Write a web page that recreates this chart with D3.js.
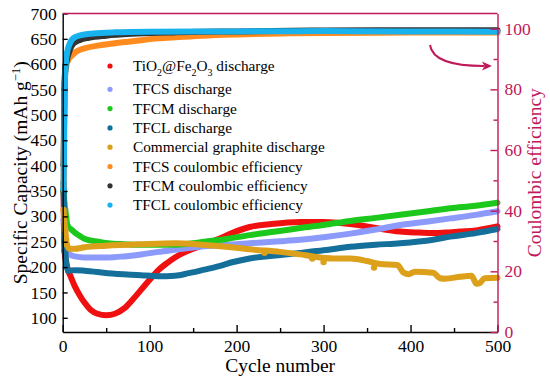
<!DOCTYPE html>
<html>
<head>
<meta charset="utf-8">
<script src="https://cdn.jsdelivr.net/npm/d3@7"></script>
<style>
  body { margin: 0; background: #fff; }
  svg { display: block; }
  text { font-family: "Liberation Serif", "Times New Roman", serif !important; }
</style>
</head>
<body>
<div id="chart"></div>
<script>
'use strict';

// values, [cycle, value]
const tfoDischarge = [[1,350],[2,232],[3,220],[4,208],[6,195],[10,178],[14,162],[20,143],[25,130],
  [32,116],[40,108],[50,105],[60,108],[71,119],[80,135],[90,155],[100,175],[110,194],[120,208],
  [130,220],[140,229],[150,236],[163,244],[180,256],[196,268],[215,279],[240,285],[273,289],
  [300,289],[319,287],[340,283],[360,277],[388,270],[410,268],[426,267],[440,268],[457,270],
  [475,272],[491,277],[500,280]];
const tfcsDischarge = [[1,293],[2,262],[3,245],[5,230],[8,225],[14,221],[25,219],[52,219],[70,221],
  [90,225],[110,230],[129,234],[158,240],[190,244],[215,247],[250,251],[273,254],[300,259],
  [331,266],[360,274],[388,283],[420,290],[446,296],[475,303],[500,310]];
const tfcmDischarge = [[1,352],[2,326],[3,313],[4,299],[5,285],[6,280],[10,274],[14,268],[20,261],
  [25,256],[41,250],[52,247],[70,245],[90,244],[129,244],[145,246],[163,250],[190,256],[215,263],
  [245,270],[273,277],[300,283],[331,291],[360,297],[388,303],[420,310],[446,316],[475,321],[500,327]];
const tfclDischarge = [[1,366],[2,268],[3,230],[4,210],[5,200],[6,193],[14,194],[25,193],[52,188],
  [90,184],[110,182],[129,183],[145,188],[163,195],[180,202],[196,210],[215,217],[245,223],
  [273,228],[300,233],[331,240],[360,244],[388,247],[426,254],[446,260],[475,267],[500,275]];
const graphiteDischarge = [[1,313],[2,290],[3,273],[4,255],[5,243],[8,236],[14,236],[25,239],
  [50,242],[90,245],[130,247],[160,244],[200,238],[215,235],[250,230],[273,225],[288,221],
  [311,217],[331,217],[350,212],[365,206],[385,204],[392,189],[398,186],[405,191],[426,189],
  [434,178],[440,177],[457,181],[470,183],[476,167],[480,169],[485,178],[500,179]];
const graphiteDips = [[232,228],[287,217],[300,210],[358,199]];

const tfcsCE = [[1,48],[2,82],[4,87.5],[6,89.5],[10,91],[15,92.3],[25,93.5],[40,94.4],[55,95],
  [75,95.7],[90,96.2],[110,96.8],[130,97.2],[160,97.7],[200,98.1],[250,98.4],[300,98.6],
  [400,98.7],[500,98.7]];
const tfcmCE = [[1,55],[2,80],[3,87],[5,90],[8,92.8],[12,95],[20,96.3],[30,97],[50,97.7],
  [80,98.3],[120,98.7],[200,99.1],[300,99.4],[400,99.5],[500,99.5]];
const tfclCE = [[1,47],[2,75],[3,86],[5,92],[8,95],[12,96.8],[20,97.8],[35,98.4],[60,98.8],
  [100,99.0],[200,99.1],[300,99.2],[400,99.1],[500,99.0]];

const seriesNames = ['TiO_{2}@Fe_{2}O_{3} discharge', 'TFCS discharge', 'TFCM discharge',
  'TFCL discharge', 'Commercial graphite discharge', 'TFCS coulombic efficiency',
  'TFCM coulombic efficiency', 'TFCL coulombic efficiency'];
const seriesColors = ['#f01010', '#8c9bfb', '#1dc81d', '#14709a', '#dca01a', '#ff8a1e', '#333333', '#18b2ee'];
const seriesData = [tfoDischarge, tfcsDischarge, tfcmDischarge, tfclDischarge, graphiteDischarge,
  tfcsCE, tfcmCE, tfclCE];
const seriesAxis = ['left', 'left', 'left', 'left', 'left', 'right', 'right', 'right'];

const cycleTicks = [0, 100, 200, 300, 400, 500];
const cycleMinor = [50, 150, 250, 350, 450];
const capTicks = [100, 150, 200, 250, 300, 350, 400, 450, 500, 550, 600, 650, 700];
const ceTicks = [0, 20, 40, 60, 80, 100];
const ceMinor = [10, 30, 50, 70, 90];

const W = 550, H = 383;
const margin = {top: 13.5, right: 52.5, bottom: 51, left: 62.7};
const crimson = '#c0185a';
const serif = '"Liberation Serif", "Times New Roman", serif';

const svg = d3.select('#chart').append('svg')
  .attr('width', W).attr('height', H)
  .style('font-family', serif);

const x = d3.scaleLinear().domain([0, 500]).range([margin.left, W - margin.right]);
const yL = d3.scaleLinear().domain([72, 700]).range([H - margin.bottom, margin.top]);
const yR = d3.scaleLinear().domain([0, 105]).range([H - margin.bottom, margin.top]);

// rich text: _{..} subscript, ^{..} superscript
function richText(sel, str, size) {
  const parts = str.split(/([_^]\{[^}]*\})/).filter(s => s.length);
  let shift = 0;
  for (const p of parts) {
    if (p[0] === '_' || p[0] === '^') {
      const sub = p[0] === '_';
      const target = sub ? size * 0.3 : -size * 0.38;
      sel.append('tspan').attr('dy', target - shift)
        .attr('font-size', size * 0.65).text(p.slice(2, -1));
      shift = target;
    } else {
      sel.append('tspan').attr('dy', -shift).text(p);
      shift = 0;
    }
  }
}

// series
const plot = svg.append('g');
seriesData.forEach((data, i) => {
  const y = seriesAxis[i] === 'left' ? yL : yR;
  const line = d3.line().x(d => x(d[0])).y(d => y(d[1])).curve(d3.curveMonotoneX);
  plot.append('path')
    .attr('d', line(data))
    .attr('fill', 'none')
    .attr('stroke', seriesColors[i])
    .attr('stroke-width', 6)
    .attr('stroke-linejoin', 'round')
    .attr('stroke-linecap', 'round');
  plot.append('g').selectAll('circle')
    .data(data.filter(d => d[0] < 8))
    .enter().append('circle')
      .attr('cx', d => x(d[0])).attr('cy', d => y(d[1]))
      .attr('r', 3).attr('fill', seriesColors[i]);
  if (i === 4) {
    plot.append('g').selectAll('circle')
      .data(graphiteDips)
      .enter().append('circle')
        .attr('cx', d => x(d[0])).attr('cy', d => yL(d[1]))
        .attr('r', 3.2).attr('fill', seriesColors[i]);
  }
});

// axes
function styleAxis(g, color, fontSize) {
  g.attr('font-family', serif);
  g.selectAll('path, line').attr('stroke', color).attr('stroke-width', 1.4);
  g.selectAll('text').attr('fill', color).attr('font-size', fontSize)
    .style('font-family', serif);
}

const bottom = svg.append('g').attr('transform', `translate(0,${H - margin.bottom})`)
  .call(d3.axisBottom(x).tickValues(cycleTicks).tickSizeInner(-7).tickSizeOuter(0).tickPadding(8));
styleAxis(bottom, '#000', 17.5);
const bottomMinor = svg.append('g').attr('transform', `translate(0,${H - margin.bottom})`)
  .call(d3.axisBottom(x).tickValues(cycleMinor).tickSizeInner(-4).tickSizeOuter(0).tickFormat(''));
styleAxis(bottomMinor, '#000', 17.5);
bottomMinor.select('.domain').remove();

const left = svg.append('g').attr('transform', `translate(${margin.left},0)`)
  .call(d3.axisLeft(yL).tickValues(capTicks).tickSizeInner(-5).tickSizeOuter(0).tickPadding(6));
styleAxis(left, '#000', 17.5);

const right = svg.append('g').attr('transform', `translate(${W - margin.right},0)`)
  .call(d3.axisRight(yR).tickValues(ceTicks).tickSizeInner(-7).tickSizeOuter(0).tickPadding(7));
styleAxis(right, crimson, 17.5);
const rightMinor = svg.append('g').attr('transform', `translate(${W - margin.right},0)`)
  .call(d3.axisRight(yR).tickValues(ceMinor).tickSizeInner(-4).tickSizeOuter(0).tickFormat(''));
styleAxis(rightMinor, crimson, 17.5);
rightMinor.select('.domain').remove();

// top frame line
svg.append('line')
  .attr('x1', margin.left).attr('x2', W - margin.right)
  .attr('y1', margin.top).attr('y2', margin.top)
  .attr('stroke', crimson).attr('stroke-width', 1.4);

// axis titles
svg.append('text')
  .attr('x', (margin.left + W - margin.right) / 2).attr('y', 372)
  .attr('text-anchor', 'middle').attr('font-size', 19.5)
  .text('Cycle number');

const yTitle = svg.append('text')
  .attr('transform', `translate(27,${(margin.top + H - margin.bottom) / 2}) rotate(-90)`)
  .attr('text-anchor', 'middle').attr('font-size', 19.5);
richText(yTitle, 'Specific Capacity (mAh g^{\u22121})', 19.5);

svg.append('text')
  .attr('transform', `translate(541,${(margin.top + H - margin.bottom) / 2}) rotate(-90)`)
  .attr('text-anchor', 'middle').attr('font-size', 19.5).attr('fill', crimson)
  .text('Coulombic efficiency');

// arrow pointing to right axis
svg.append('path')
  .attr('d', 'M430,45 Q433,66 484,66')
  .attr('fill', 'none').attr('stroke', crimson).attr('stroke-width', 2);
svg.append('path')
  .attr('d', 'M492,66 L482,61.5 L484.5,66 L482,70.5 Z')
  .attr('fill', crimson);

// legend
const legend = svg.append('g');
seriesNames.forEach((name, i) => {
  const cy = i === 0 ? 66 : 70 + i * 19.3;
  legend.append('circle').attr('cx', 110).attr('cy', cy).attr('r', 2.6)
    .attr('fill', seriesColors[i]);
  const t = legend.append('text').attr('x', 133).attr('y', cy + 5)
    .attr('font-size', 15.3);
  richText(t, name, 15.3);
});
</script>
</body>
</html>
